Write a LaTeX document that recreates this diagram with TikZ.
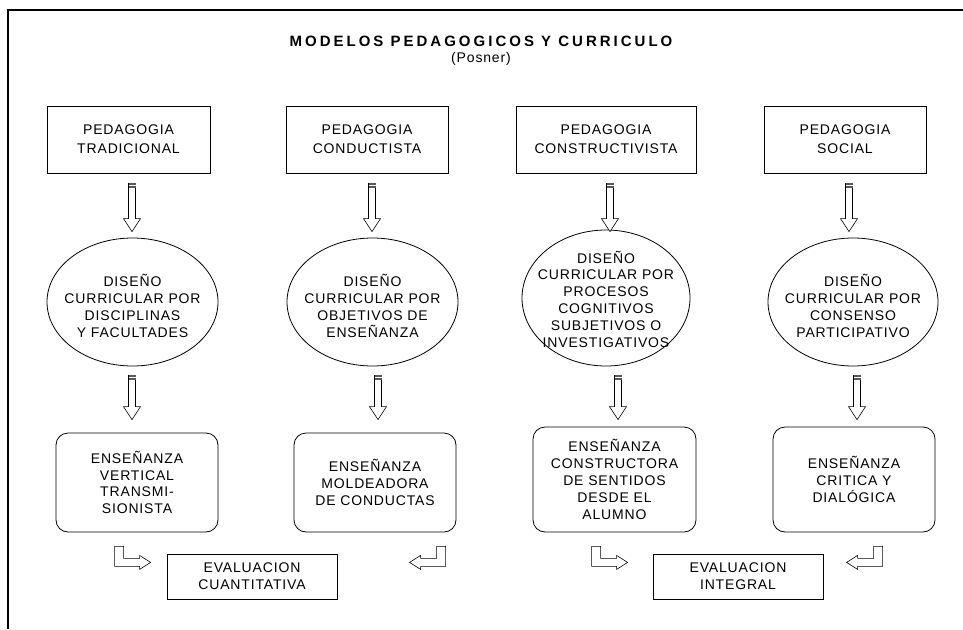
\documentclass[tikz,border=0pt]{standalone}
\usepackage{fontspec}
\setmainfont{Liberation Sans}[LetterSpace=6]
\newfontfamily\titlefont{Liberation Sans}[LetterSpace=20]
\usetikzlibrary{shapes.geometric,calc}
\tikzset{
  txt/.style={font=\fontsize{14}{16.8}\selectfont, align=center, text=black, inner sep=0pt},
  sqbox/.style={draw, line width=0.8pt, txt, rectangle, minimum width=#1},
  sqbox/.default=162,
  ell/.style={draw, line width=0.8pt, ellipse, inner sep=0pt},
  rbox/.style={draw, line width=0.8pt, txt, rectangle, rounded corners=12pt, minimum width=162},
  arr/.style={draw, line width=0.6pt, fill=white},
  arrcap/.style={fill=black!65},
}
% vertical block arrow: #1 = top point, #2 = point whose y is the tip
\newcommand\blockdown[2]{%
  \draw[arr] let \p1=(#1), \p2=(#2) in
    (\x1-3.5pt,\y1) -- (\x1+3.5pt,\y1) -- (\x1+3.5pt,\y2+13pt) -- (\x1+8.5pt,\y2+13pt)
    -- (\x1,\y2) -- (\x1-8.5pt,\y2+13pt) -- (\x1-3.5pt,\y2+13pt) -- cycle;
  \fill[arrcap] let \p1=(#1) in (\x1-3.5pt,\y1) rectangle (\x1+3.5pt,\y1-5pt);
  \draw[white, line width=0.4pt] let \p1=(#1) in (\x1-3.5pt,\y1-2pt) -- (\x1+3.5pt,\y1-2pt);
}
% bent arrow pointing right, #1 = top-left corner of stem
\newcommand\bentright[1]{%
  \draw[arr] let \p1=(#1) in (\x1,\y1) -- (\x1+9pt,\y1) -- (\x1+9pt,\y1-12pt) -- (\x1+25pt,\y1-12pt)
    -- (\x1+25pt,\y1-9pt) -- (\x1+36pt,\y1-16pt) -- (\x1+25pt,\y1-23pt) -- (\x1+25pt,\y1-20pt)
    -- (\x1,\y1-20pt) -- cycle;
}
% bent arrow pointing left, #1 = top-right corner of stem
\newcommand\bentleft[1]{%
  \draw[arr] let \p1=(#1) in (\x1,\y1) -- (\x1-9pt,\y1) -- (\x1-9pt,\y1-12pt) -- (\x1-25pt,\y1-12pt)
    -- (\x1-25pt,\y1-9pt) -- (\x1-36pt,\y1-16pt) -- (\x1-25pt,\y1-23pt) -- (\x1-25pt,\y1-20pt)
    -- (\x1,\y1-20pt) -- cycle;
}
\begin{document}
\begin{tikzpicture}[x=1pt,y=-1pt]
\useasboundingbox (0,0) rectangle (963,629);
% frame
\draw[line width=1.8pt] (8,629) -- (8,10) -- (963,10);
% title
\node[font=\titlefont\fontsize{15}{18}\selectfont\bfseries, inner sep=0pt] (title) at (481,41) {MODELOS PEDAGOGICOS Y CURRICULO};
\node[font=\fontsize{14}{16}\selectfont, inner sep=0pt] (posner) at (481,59) {(Posner)};

% top boxes
\node[sqbox=163, minimum height=67, font=\fontsize{14}{19}\selectfont] (p1) at (128.5,139.5) {PEDAGOGIA\\TRADICIONAL};
\node[sqbox=162, minimum height=67, font=\fontsize{14}{19}\selectfont] (p2) at (367,139.5) {PEDAGOGIA\\CONDUCTISTA};
\node[sqbox=180, minimum height=67, font=\fontsize{14}{19}\selectfont] (p3) at (606,139.5) {PEDAGOGIA\\CONSTRUCTIVISTA};
\node[sqbox=162, minimum height=67, font=\fontsize{14}{19}\selectfont] (p4) at (845,139.5) {PEDAGOGIA\\SOCIAL};

% ellipses
\node[ell, minimum width=171, minimum height=128] (d1) at (132.5,302) {};
\node[txt] (d1t) at ($(d1.center)+(0,4)$) {DISEÑO\\CURRICULAR POR\\DISCIPLINAS\\Y FACULTADES};
\node[ell, minimum width=171, minimum height=128] (d2) at (372.5,302) {};
\node[txt] (d2t) at ($(d2.center)+(0,4)$) {DISEÑO\\CURRICULAR POR\\OBJETIVOS DE\\ENSEÑANZA};
\node[ell, minimum width=168, minimum height=136] (d3) at (606,298) {};
\node[txt] (d3t) at ($(d3.center)+(0,1)$) {DISEÑO\\CURRICULAR POR\\PROCESOS\\COGNITIVOS\\SUBJETIVOS O\\INVESTIGATIVOS};
\node[ell, minimum width=170, minimum height=128] (d4) at (853,302) {};
\node[txt] (d4t) at ($(d4.center)+(0,4)$) {DISEÑO\\CURRICULAR POR\\CONSENSO\\PARTICIPATIVO};

% rounded boxes
\node[rbox, minimum height=99] (r1) at (137,482.5) {ENSEÑANZA\\VERTICAL\\TRANSMI-\\SIONISTA};
\node[rbox, minimum height=99] (r2) at (375,482.5) {ENSEÑANZA\\MOLDEADORA\\DE CONDUCTAS};
\node[rbox, minimum width=163, minimum height=105] (r3) at (614.5,479.5) {ENSEÑANZA\\CONSTRUCTORA\\DE SENTIDOS\\DESDE EL\\ALUMNO};
\node[rbox, minimum height=105] (r4) at (854,479.5) {ENSEÑANZA\\CRITICA Y\\DIALÓGICA};

% evaluation boxes
\node[sqbox=170, minimum height=45] (e1) at (252,576.5) {EVALUACION\\CUANTITATIVA};
\node[sqbox=170, minimum height=45] (e2) at (738,576.5) {EVALUACION\\INTEGRAL};

% arrows box -> ellipse
\coordinate (a1s) at ($(p1.south)+(3.5,10)$);
\coordinate (a2s) at ($(p2.south)+(5,10)$);
\coordinate (a3s) at ($(p3.south)+(4,10)$);
\coordinate (a4s) at ($(p4.south)+(4,10)$);
\blockdown{a1s}{$(d1.north)+(0,-6)$}
\blockdown{a2s}{$(d2.north)+(0,-6)$}
\blockdown{a3s}{$(d3.north)+(0,2)$}
\blockdown{a4s}{$(d4.north)+(0,-6)$}

% arrows ellipse -> rounded box
\coordinate (b1s) at ($(d1.south)+(-0.5,9)$);
\coordinate (b2s) at ($(d2.south)+(5.5,9)$);
\coordinate (b3s) at ($(d3.south)+(12,9)$);
\coordinate (b4s) at ($(d4.south)+(4,9)$);
\blockdown{b1s}{$(r1.north)+(0,-13)$}
\blockdown{b2s}{$(r2.north)+(0,-13)$}
\blockdown{b3s}{$(r3.north)+(0,-7)$}
\blockdown{b4s}{$(r4.north)+(0,-7)$}

% bent arrows rounded box -> evaluation
\coordinate (c1) at ($(r1.south west)+(59,14)$);
\coordinate (c2) at ($(r2.south west)+(152,14)$);
\coordinate (c3) at ($(r3.south west)+(59,14)$);
\coordinate (c4) at ($(r4.south west)+(110,14)$);
\bentright{c1}
\bentleft{c2}
\bentright{c3}
\bentleft{c4}
\end{tikzpicture}
\end{document}
